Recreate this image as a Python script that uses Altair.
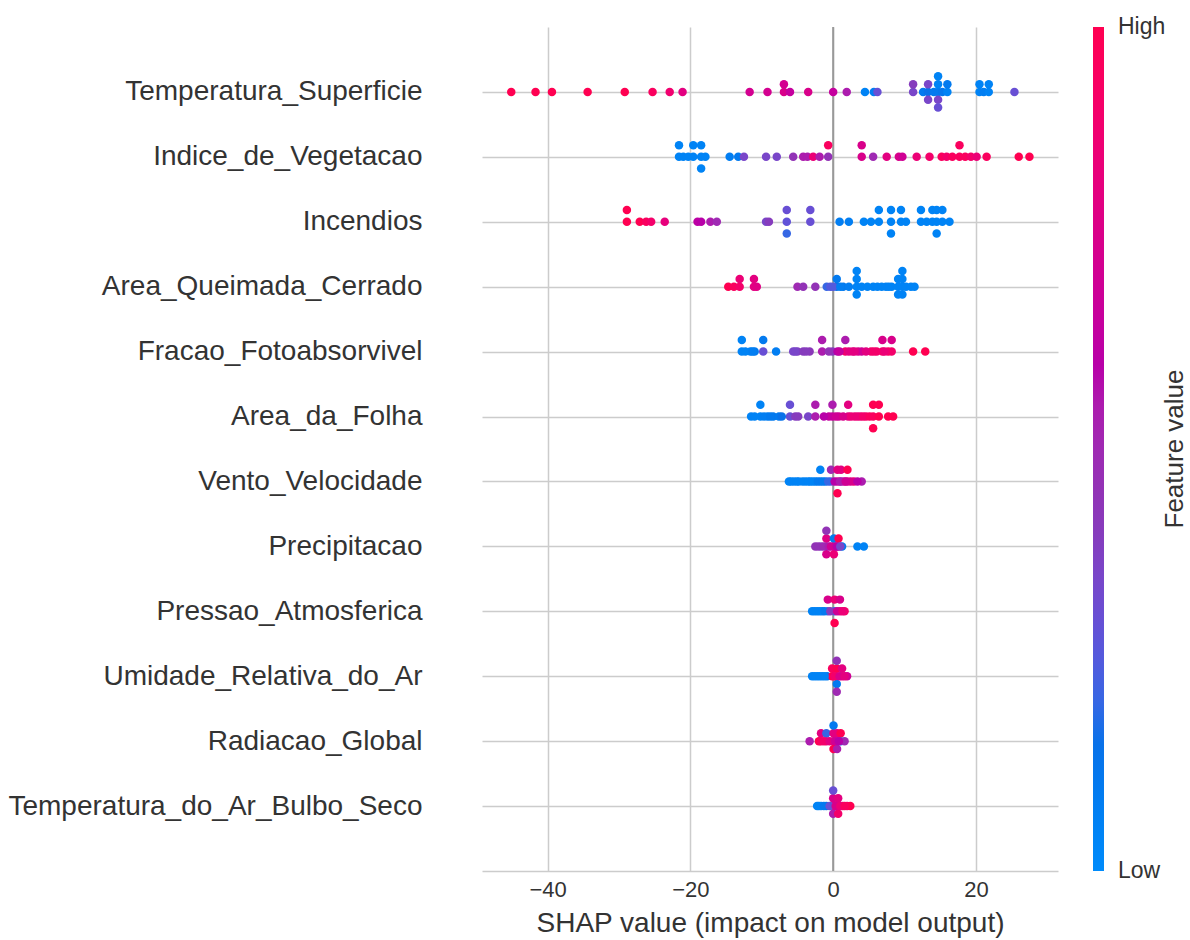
import altair as alt
import pandas as pd

features = [
    "Temperatura_Superficie", "Indice_de_Vegetacao", "Incendios", "Area_Queimada_Cerrado",
    "Fracao_Fotoabsorvivel", "Area_da_Folha", "Vento_Velocidade", "Precipitacao",
    "Pressao_Atmosferica", "Umidade_Relativa_do_Ar", "Radiacao_Global",
    "Temperatura_do_Ar_Bulbo_Seco",
]

# SHAP values (x) and normalised feature values (colour), one pair of lists per feature.
shap_temp_sup = [-45.1, -41.7, -39.4, -34.4, -29.2, -25.3, -22.9, -21.1, -11.7, -9.2, -6.9, -6.9,
                 -6.05, -3.5, 0.0, 1.9, 4.45, 5.7, 6.2, 11.2, 11.2, 12.6, 13.3, 13.3, 13.3, 14.1,
                 14.7, 14.7, 14.7, 14.7, 14.7, 15.3, 16.0, 16.0, 20.5, 20.5, 21.1, 21.8, 21.8, 25.4]
fv_temp_sup = [1.0, 1.0, 1.0, 1.0, 1.0, 0.95, 0.88, 0.8, 0.72, 0.72, 0.75, 0.72, 0.65, 0.75, 0.65,
               0.55, 0.05, 0.08, 0.3, 0.35, 0.4, 0.1, 0.15, 0.35, 0.35, 0.1, 0.1, 0.05, 0.35, 0.05,
               0.3, 0.12, 0.05, 0.1, 0.05, 0.05, 0.08, 0.05, 0.05, 0.3]

shap_veg = [-21.6, -21.6, -21.0, -20.3, -19.6, -19.6, -18.5, -18.5, -18.5, -17.9, -14.5, -13.3,
            -12.5, -9.4, -7.9, -5.6, -4.2, -3.6, -2.8, -1.9, -0.7, -0.7, 4.0, 4.0, 5.6, 7.5, 9.2,
            9.7, 11.7, 13.5, 15.2, 15.9, 16.7, 17.7, 17.7, 18.5, 19.3, 20.1, 21.5, 26.0, 27.5]
fv_veg = [0.05, 0.05, 0.05, 0.05, 0.05, 0.05, 0.05, 0.05, 0.05, 0.05, 0.08, 0.1, 0.35, 0.35, 0.35,
          0.45, 0.55, 0.55, 0.85, 0.55, 0.45, 0.95, 0.75, 0.75, 0.5, 0.8, 0.75, 0.7, 0.85, 0.9,
          0.95, 0.9, 0.95, 0.95, 0.95, 0.95, 0.9, 0.85, 0.95, 1.0, 1.0]

shap_inc = [-28.9, -28.9, -27.1, -26.2, -25.5, -23.6, -19.0, -18.5, -17.2, -16.3, -9.4, -9.0, -6.5,
            -6.5, -6.5, -3.2, -3.2, 0.9, 2.2, 4.3, 5.3, 6.4, 6.4, 8.1, 8.1, 8.1, 9.5, 9.5, 10.2,
            12.3, 12.3, 13.1, 13.9, 13.9, 14.5, 14.5, 14.5, 15.3, 15.3, 16.3]
fv_inc = [1.0, 1.0, 1.0, 0.95, 0.9, 0.82, 0.62, 0.6, 0.55, 0.5, 0.35, 0.4, 0.28, 0.3, 0.2, 0.3, 0.3,
          0.08, 0.08, 0.05, 0.05, 0.05, 0.05, 0.05, 0.05, 0.05, 0.05, 0.05, 0.05, 0.05, 0.05, 0.05,
          0.05, 0.05, 0.05, 0.05, 0.05, 0.05, 0.05, 0.05]

shap_queim = [-14.7, -13.9, -13.1, -13.1, -11.1, -11.1, -10.7, -5.0, -4.2, -2.5, -0.9, -0.4, 0.5,
              0.5, 1.4, 2.2, 3.3, 3.3, 3.3, 3.3, 4.0, 4.8, 5.6, 6.2, 7.4, 8.2, 9.1, 9.1, 9.1, 9.7,
              9.7, 9.7, 9.7, 10.2, 10.9, 11.4, 0.0, 1.0, 7.8, 6.8]
fv_queim = [1.0, 0.95, 0.9, 0.85, 0.8, 0.8, 0.78, 0.5, 0.45, 0.45, 0.2, 0.25, 0.15, 0.1, 0.1, 0.08,
            0.05, 0.05, 0.05, 0.05, 0.05, 0.05, 0.05, 0.05, 0.05, 0.05, 0.05, 0.05, 0.05, 0.05,
            0.05, 0.05, 0.05, 0.05, 0.05, 0.05, 0.25, 0.08, 0.05, 0.05]

shap_fapar = [-12.8, -12.8, -12.3, -11.6, -11.0, -9.8, -9.8, -8.0, -5.6, -5.0, -4.2, -3.3, -1.55,
              -1.55, -0.1, 1.7, 1.7, 2.7, 3.5, 4.0, 5.3, 6.1, 6.9, 6.9, 7.7, 8.2, 8.2, 11.2, 12.9,
              -11.3, -5.3, -3.8, -0.6, 0.6, 0.9, 2.2, 3.0, 4.6, 5.7, 7.2]
fv_fapar = [0.05, 0.05, 0.05, 0.05, 0.1, 0.3, 0.1, 0.08, 0.35, 0.38, 0.4, 0.42, 0.55, 0.55, 0.4,
            0.9, 0.55, 0.8, 0.75, 0.7, 0.9, 0.9, 0.9, 0.75, 0.95, 0.9, 0.75, 1.0, 1.0, 0.08, 0.35,
            0.4, 0.45, 0.6, 0.65, 0.8, 0.8, 0.8, 0.9, 0.85]

shap_folha = [-11.5, -10.2, -10.2, -9.2, -8.4, -7.6, -6.05, -6.05, -5.3, -3.5, -2.5, -2.5, -0.6,
              -0.1, -0.1, 0.8, 2.1, 2.1, 3.0, 3.8, 4.6, 5.6, 5.6, 5.6, 6.4, 6.4, 7.7, 8.4, -11.0,
              -9.7, -8.8, -7.2, -4.9, -1.3, 0.4, 1.4, 2.5, 3.4, 4.2, 5.1]
fv_folha = [0.05, 0.05, 0.05, 0.08, 0.1, 0.1, 0.3, 0.3, 0.4, 0.35, 0.55, 0.55, 0.65, 0.65, 0.55,
            0.7, 0.8, 0.8, 0.85, 0.85, 0.9, 0.95, 1.0, 1.0, 1.0, 1.0, 1.0, 1.0, 0.05, 0.08, 0.1,
            0.15, 0.4, 0.6, 0.7, 0.75, 0.85, 0.85, 0.9, 0.95]

shap_vento = [-6.2, -4.8, -3.9, -3.2, -2.5, -1.8, -1.8, -1.1, -0.3, -0.3, 0.6, 0.6, 0.6, 1.1, 1.1,
              2.0, 2.0, 2.9, 4.0, -5.5, -4.3, -3.5, -2.85, -2.15, -1.45, -0.7, 0.2, 1.5, 2.45,
              3.4, -5.9, -5.1, 0.95, 1.75]
fv_vento = [0.05, 0.05, 0.05, 0.05, 0.08, 0.1, 0.05, 0.1, 0.3, 0.5, 0.75, 0.8, 1.0, 0.45, 0.8,
            0.75, 1.0, 0.88, 0.55, 0.05, 0.05, 0.05, 0.05, 0.1, 0.1, 0.2, 0.6, 0.65, 0.75, 0.6,
            0.05, 0.05, 0.55, 0.7]

shap_prec = [-2.5, -1.7, -0.95, -0.95, -0.95, -0.95, 0.1, 0.1, 0.1, 0.75, 0.75, 1.25, 3.4, 4.3,
             -2.1, -1.3, -0.6, -0.3, 0.4, 0.5, 1.0]
fv_prec = [0.45, 0.38, 0.6, 0.78, 0.75, 0.45, 0.7, 0.1, 0.85, 0.7, 1.0, 0.1, 0.05, 0.05, 0.45,
           0.5, 0.55, 0.7, 0.75, 0.6, 0.35]

shap_press = [-2.95, -2.25, -1.55, -0.75, -0.75, 0.2, 0.2, 0.2, 0.95, 0.95, 1.6, -2.6, -1.9,
              -1.2, -0.4, 0.55, 1.3]
fv_press = [0.05, 0.05, 0.1, 0.3, 0.75, 0.2, 0.85, 1.0, 0.8, 0.75, 0.9, 0.05, 0.05, 0.1, 0.4,
            0.7, 0.85]

shap_umid = [-2.95, -2.25, -1.55, -0.85, -0.15, -0.15, 0.5, 0.5, 0.5, 0.5, 0.5, 1.25, 1.25, 1.95,
             -2.6, -1.9, -1.2, 0.2, 0.9, 1.6]
fv_umid = [0.05, 0.05, 0.05, 0.1, 1.0, 0.95, 0.8, 1.0, 0.1, 0.45, 0.5, 0.85, 0.8, 0.7, 0.05, 0.05,
           0.05, 0.9, 0.75, 0.8]

shap_rad = [-3.3, -2.0, -1.7, -1.7, -0.95, -0.95, 0.05, 0.05, 0.05, 0.05, 0.55, 0.55, 0.55, 1.05,
            1.05, 1.6, -1.3, -0.5, 0.3, 0.8]
fv_rad = [0.55, 1.0, 0.95, 0.8, 0.85, 0.2, 0.75, 0.8, 1.0, 0.1, 0.5, 0.8, 0.55, 0.1, 1.0, 0.5,
          0.9, 0.8, 0.7, 0.6]

shap_tar = [-2.25, -1.7, -0.95, 0.0, 0.0, 0.0, 0.0, 0.7, 0.7, 0.7, 1.3, 1.95, 2.4, -2.0, -1.3,
            -0.5, 0.35, 1.0, 1.6]
fv_tar = [0.05, 0.05, 0.15, 0.8, 0.75, 0.55, 0.3, 0.8, 0.8, 0.9, 0.8, 0.9, 1.0, 0.05, 0.1, 0.3,
          0.75, 0.85, 0.95]

shap_lists = [shap_temp_sup, shap_veg, shap_inc, shap_queim, shap_fapar, shap_folha,
              shap_vento, shap_prec, shap_press, shap_umid, shap_rad, shap_tar]
fv_lists = [fv_temp_sup, fv_veg, fv_inc, fv_queim, fv_fapar, fv_folha,
            fv_vento, fv_prec, fv_press, fv_umid, fv_rad, fv_tar]

x_ticks = [-40, -20, 0, 20]
color_stops = [0, 0.16, 0.28, 0.42, 0.6, 0.75, 1]
palette = ["#008bfb", "#0a70e8", "#6052d8", "#8a38b8", "#b800a8", "#d8008a", "#ff0051"]
cbar_labels = ["High", "Low"]

# Beeswarm layout as in SHAP: equal values stack in alternating layers (0, +1, -1, +2, -2 ...)
ROW_HEIGHT = 0.4
records = []
n = len(features)
for i, (name, sv, fv) in enumerate(zip(features, shap_lists, fv_lists)):
    pos = n - 1 - i
    seen = {}
    layers = []
    for v in sv:
        k = seen.get(v, 0)
        seen[v] = k + 1
        layers.append(((k + 1) // 2) * (1 if k % 2 == 1 else -1))
    scale = 0.9 * ROW_HEIGHT / (max(layers) + 1)
    for v, f, l in zip(sv, fv, layers):
        records.append({"feature": name, "shap": v, "fv": f, "ypos": pos + l * scale})

df = pd.DataFrame(records)

label_expr = "[" + ",".join("'" + f + "'" for f in reversed(features)) + "][datum.value]"

FONT = "Liberation Sans"
TXT = "#333333"

x_enc = alt.X(
    "shap:Q",
    scale=alt.Scale(domain=[-49.2, 31.5], nice=False, zero=False),
    axis=alt.Axis(
        values=x_ticks, title="SHAP value (impact on model output)", grid=True,
        gridColor="#cccccc", gridWidth=1.5, domainColor="#cccccc", domainWidth=1.5,
        ticks=False, labelFontSize=22, labelPadding=8, labelColor=TXT, titleColor=TXT,
        titleFontSize=28, titleFontWeight="normal", titlePadding=9, format="d",
    ),
)

points = alt.Chart(df).mark_circle(size=72, opacity=1).encode(
    x=x_enc,
    y=alt.Y(
        "ypos:Q",
        scale=alt.Scale(domain=[-1, 12], nice=False, zero=False),
        axis=alt.Axis(
            values=list(range(n)), labelExpr=label_expr, domain=False, ticks=False,
            grid=True, gridColor="#cccccc", gridWidth=1.5, labelFontSize=28,
            labelPadding=60, labelLimit=700, labelColor=TXT, title=None,
        ),
    ),
    color=alt.Color(
        "fv:Q",
        scale=alt.Scale(domain=color_stops, range=palette),
        legend=alt.Legend(
            title=None, orient="none", legendX=611, legendY=0, direction="vertical",
            gradientLength=844, gradientThickness=11, values=[0, 1],
            labelExpr="''", labelOpacity=0, gradientStrokeWidth=0,
        ),
    ),
)

zero_rule = alt.Chart(pd.DataFrame({"shap": [0.0]})).mark_rule(
    color="#999999", strokeWidth=2
).encode(x=x_enc)

cbar_high = alt.Chart(pd.DataFrame({"t": [cbar_labels[0]]})).mark_text(
    fontSize=23, color=TXT, font=FONT, align="left", baseline="middle"
).encode(text="t:N", x=alt.value(636), y=alt.value(0))

cbar_low = alt.Chart(pd.DataFrame({"t": [cbar_labels[1]]})).mark_text(
    fontSize=23, color=TXT, font=FONT, align="left", baseline="middle"
).encode(text="t:N", x=alt.value(636), y=alt.value(844))

cbar_title = alt.Chart(pd.DataFrame({"t": ["Feature value"]})).mark_text(
    angle=270, fontSize=26, color=TXT, font=FONT, baseline="middle", align="center"
).encode(text="t:N", x=alt.value(693), y=alt.value(422))

chart = (
    alt.layer(zero_rule, points, cbar_high, cbar_low, cbar_title)
    .properties(
        width=576, height=844,
        padding={"left": 482, "top": 27, "right": 132, "bottom": 69},
        autosize=alt.AutoSizeParams(type="none"),
        background="white",
    )
    .configure(font=FONT)
    .configure_view(strokeWidth=0)
)

chart.save("out.html", embed_options={"renderer": "svg", "actions": False})
